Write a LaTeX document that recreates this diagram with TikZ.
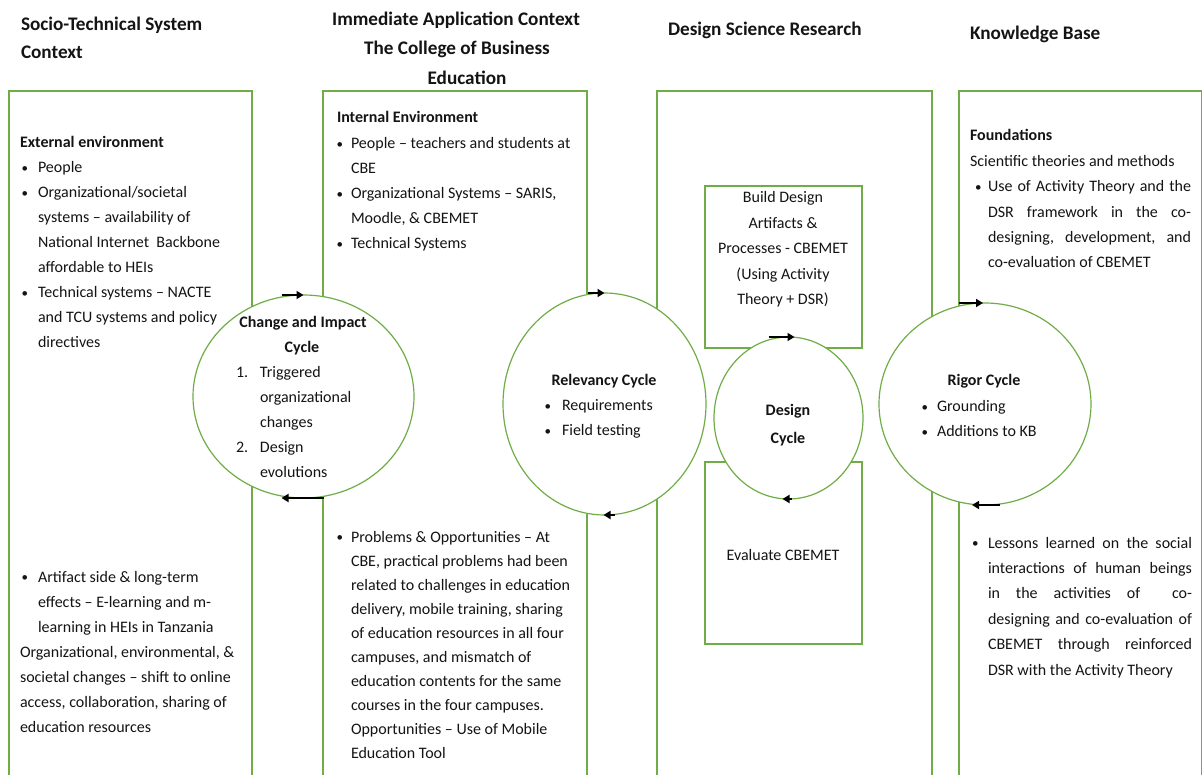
\documentclass[tikz,border=0pt]{standalone}
\usepackage{fontspec}
\setmainfont{Carlito}
\usetikzlibrary{shapes.geometric,arrows.meta,calc}
\definecolor{grn}{RGB}{112,173,71}
\definecolor{txt}{RGB}{20,20,20}
\newcommand\fls{\rule{0pt}{14pt}}
\newcommand\bul{\raisebox{0.6pt}{\fontsize{13}{13}\selectfont•}}
\newcommand\bl[2][18pt]{\makebox[#1][l]{\hspace{1.5pt}\bul}#2}
\newcommand\cl[2][18pt]{\hspace*{#1}#2}
\begin{document}
\begin{tikzpicture}[x=1pt,y=-1pt,
  box/.style={draw=grn,line width=1.2pt},
  cyc/.style={ellipse,draw=grn,line width=1.2pt,fill=white,inner sep=0pt,outer sep=0pt},
  rbox/.style={draw=grn,line width=1.2pt,inner sep=0pt,outer sep=0pt,anchor=north west},
  arr/.style={line width=2.3pt,-{Triangle[length=7pt,width=8pt]}},
  tb/.style={anchor=north west,inner sep=0pt,outer sep=0pt,align=left,font=\fontsize{16}{25}\selectfont,text=txt},
  tc/.style={anchor=base,inner sep=0pt,outer sep=0pt,font=\fontsize{16}{25}\selectfont,text=txt},
  hd/.style={inner sep=0pt,outer sep=0pt,font=\fontsize{19.2}{29}\selectfont\bfseries,text=txt},
]
\useasboundingbox (0,0) rectangle (1203,775);
\fill[white] (0,0) rectangle (1203,775);

% column frames (open at the bottom)
\draw[box] (9,780) -- (9,91) -- (252,91) -- (252,780);
\draw[box] (323,780) -- (323,91) -- (587,91) -- (587,780);
\draw[box] (657,780) -- (657,91) -- (932,91) -- (932,780);
\draw[box] (959,780) -- (959,91) -- (1201.5,91) -- (1201.5,780);

% inner boxes of DSR
\node[rbox,minimum width=157pt,minimum height=162pt] (build) at (705,186) {};
\node[rbox,minimum width=157pt,minimum height=182pt] (eval) at (705,462) {};

% cycles
\node[cyc,minimum width=221pt,minimum height=203pt] (chg) at (303.5,396.5) {};
\node[cyc,minimum width=203pt,minimum height=222pt] (rel) at (604.5,404) {};
\node[cyc,minimum width=149pt,minimum height=162pt] (des) at (788.5,418) {};
\node[cyc,minimum width=212pt,minimum height=202pt] (rig) at (985,404) {};

% arrows
\coordinate (c1) at ($(chg.north)+(-22,0)$);
\coordinate (c2a) at ($(chg.south)+(20,0)$);
\coordinate (c2b) at ($(chg.south)+(-22,0)$);
\coordinate (r1) at ($(rel.north)+(-17,0)$);
\coordinate (r2a) at ($(rel.south)+(10,0)$);
\coordinate (r2b) at ($(rel.south)+(-1,0)$);
\coordinate (d1a) at ($(des.north)+(-20,0)$);
\coordinate (d1b) at ($(des.north)+(6,0)$);
\coordinate (d2a) at ($(des.south)+(3,0)$);
\coordinate (d2b) at ($(des.south)+(-6,0)$);
\coordinate (g1) at ($(rig.north)+(-26,0)$);
\coordinate (g1b) at ($(rig.north)+(-2,0)$);
\coordinate (g2a) at ($(rig.south)+(15,0)$);
\coordinate (g2b) at ($(rig.south)+(-13,0)$);
\draw[arr] (c1) -- (chg.north);
\draw[arr] (c2a) -- (c2b);
\draw[arr] (r1) -- (rel.north);
\draw[arr] (r2a) -- (r2b);
\draw[arr] (d1a) -- (d1b);
\draw[arr] (d2a) -- (d2b);
\draw[arr] (g1) -- (g1b);
\draw[arr] (g2a) -- (g2b);

% headings
\node[hd,anchor=base west] (h1a) at (21,31) {Socio-Technical System};
\node[hd,anchor=base west] (h1b) at (21,59) {Context};
\node[hd,anchor=base] (h2a) at (456,26) {Immediate Application Context};
\node[hd,anchor=base] (h2b) at (457,55) {The College of Business};
\node[hd,anchor=base] (h2c) at (467,85) {Education};
\node[hd,anchor=base west] (h3) at (668,36) {Design Science Research};
\node[hd,anchor=base west] (h4) at (970,40) {Knowledge Base};

% column 1
\node[tb] (ext) at (20,134) {\fls\textbf{External environment}\\
\bl{People}\\
\bl{Organizational/societal}\\
\cl{systems – availability of}\\
\cl{National Internet\ \ Backbone}\\
\cl{affordable to HEIs}\\
\bl{Technical systems – NACTE}\\
\cl{and TCU systems and policy}\\
\cl{directives}};
\node[tb] (art) at (20,568) {\fls\bl{Artifact side \& long-term}\\
\cl{effects – E-learning and m-}\\
\cl{learning in HEIs in Tanzania}\\
Organizational, environmental, \&\\
societal changes – shift to online\\
access, collaboration, sharing of\\
education resources};

% column 2
\node[tb] (intl) at (337,109) {\fls\textbf{Internal Environment}};
\node[tb] (intlist) at (335,135) {\fls\bl[16pt]{People – teachers and students at}\\
\cl[16pt]{CBE}\\
\bl[16pt]{Organizational Systems – SARIS,}\\
\cl[16pt]{Moodle, \& CBEMET}\\
\bl[16pt]{Technical Systems}};
\node[tb,font=\fontsize{16}{24}\selectfont] (prob) at (335,528) {\fls\bl[16pt]{Problems \& Opportunities – At}\\
\cl[16pt]{CBE, practical problems had been}\\
\cl[16pt]{related to challenges in education}\\
\cl[16pt]{delivery, mobile training, sharing}\\
\cl[16pt]{of education resources in all four}\\
\cl[16pt]{campuses, and mismatch of}\\
\cl[16pt]{education contents for the same}\\
\cl[16pt]{courses in the four campuses.}\\
\cl[16pt]{Opportunities – Use of Mobile}\\
\cl[16pt]{Education Tool}};

% DSR boxes text
\node[tb,anchor=north,align=center,font=\fontsize{16}{25.5}\selectfont] (buildt) at (783,189) {\fls Build Design\\ Artifacts \&\\ Processes - CBEMET\\ (Using Activity\\ Theory + DSR)};
\node[tc] (evalt) at (783,560) {Evaluate CBEMET};

% column 4
\node[tb,font=\fontsize{16}{25.4}\selectfont] (found) at (970,127) {\fls\textbf{Foundations}\\
Scientific theories and methods\\
\makebox[18pt][l]{\hspace{5pt}\bul}\makebox[203pt][s]{Use of Activity Theory and the}\\
\hspace*{18pt}\makebox[203pt][s]{DSR framework in the co-}\\
\hspace*{18pt}\makebox[203pt][s]{designing, development, and}\\
\hspace*{18pt}co-evaluation of CBEMET};
\node[tb,font=\fontsize{16}{25.4}\selectfont] (less) at (970,534) {\fls\makebox[18pt][l]{\hspace{2pt}\bul}\makebox[204pt][s]{Lessons learned on the social}\\
\hspace*{18pt}\makebox[204pt][s]{interactions of human beings}\\
\hspace*{18pt}\makebox[204pt][s]{in the activities of \ co-}\\
\hspace*{18pt}\makebox[204pt][s]{designing and co-evaluation of}\\
\hspace*{18pt}\makebox[204pt][s]{CBEMET through reinforced}\\
\hspace*{18pt}DSR with the Activity Theory};

% cycle texts
\node[tc,font=\fontsize{16}{25}\selectfont\bfseries] (chgt1) at (303,328) {Change and Impact};
\node[tc,font=\fontsize{16}{25}\selectfont\bfseries] (chgt2) at (302,353) {Cycle};
\node[tb] (chgl) at (236,364) {\fls\makebox[24pt][l]{1.}Triggered\\
\hspace*{24pt}organizational\\
\hspace*{24pt}changes\\
\makebox[24pt][l]{2.}Design\\
\hspace*{24pt}evolutions};
\node[tc,font=\fontsize{16}{25}\selectfont\bfseries] (relt) at (604,386) {Relevancy Cycle};
\node[tb] (rell) at (543,397) {\fls\bl[19pt]{Requirements}\\ \bl[19pt]{Field testing}};
\node[tc,font=\fontsize{16}{25}\selectfont\bfseries] (dest1) at (788,416) {Design};
\node[tc,font=\fontsize{16}{25}\selectfont\bfseries] (dest2) at (788,444) {Cycle};
\node[tc,font=\fontsize{16}{25}\selectfont\bfseries] (rigt) at (984,386) {Rigor Cycle};
\node[tb] (rigl) at (920,398) {\fls\bl[17pt]{Grounding}\\ \bl[17pt]{Additions to KB}};
\end{tikzpicture}
\end{document}
